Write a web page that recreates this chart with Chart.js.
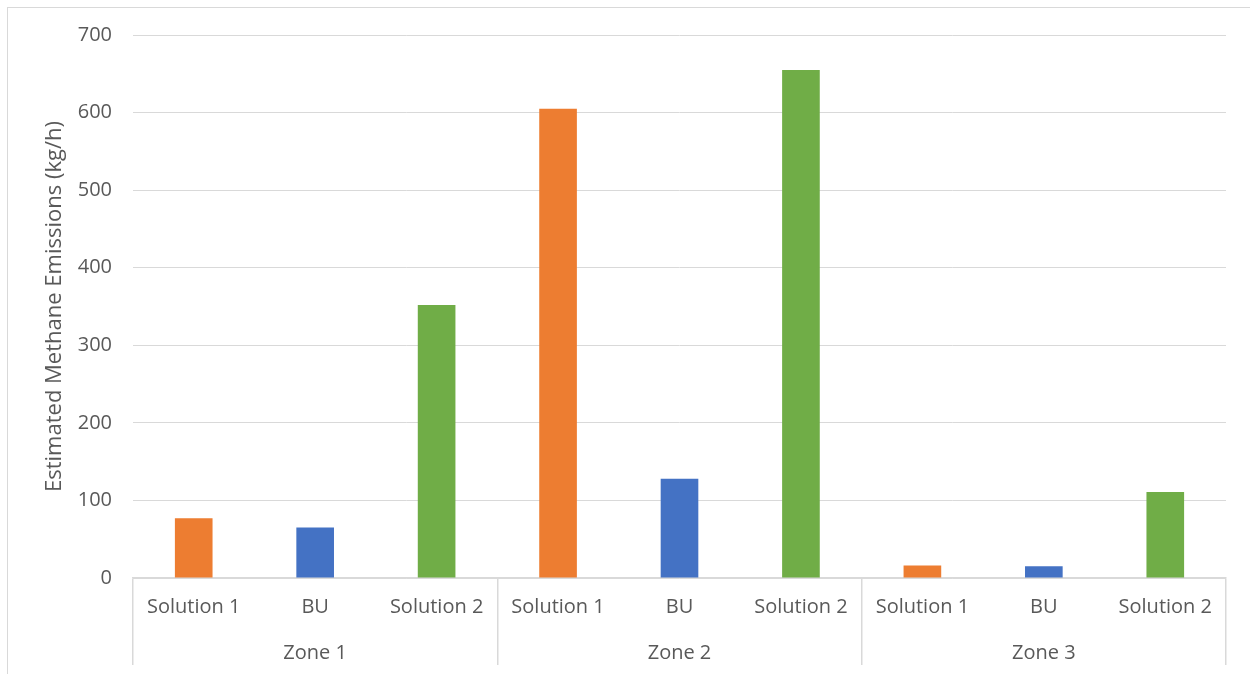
<!DOCTYPE html>
<html>
<head>
<meta charset="utf-8">
<script src="https://cdn.jsdelivr.net/npm/chart.js@4.4.1/dist/chart.umd.min.js"></script>
<style>
  body { margin: 0; background: #fff; }
  #frame { position: absolute; left: 7px; top: 7px; width: 1260px; height: 680px;
           border-left: 1.5px solid #d9d9d9; border-top: 1.5px solid #d9d9d9; }
  #chart { position: absolute; left: 0; top: 0; }
</style>
</head>
<body>
<div id="frame"></div>
<canvas id="chart" width="1250" height="674"></canvas>
<script>
const zones = ['Zone 1', 'Zone 2', 'Zone 3'];
const methods = ['Solution 1', 'BU', 'Solution 2'];
const solution1 = [77, 605, 16];
const bu = [65, 128, 15];
const solution2 = [352, 655, 111];
const yTicks = [0, 100, 200, 300, 400, 500, 600, 700];

const methodColors = ['#ed7d31', '#4472c4', '#70ad47'];
const series = [solution1, bu, solution2];

// interleave zone x method into one flat category list
const labels = [];
const values = [];
const colors = [];
zones.forEach((z, zi) => {
    methods.forEach((m, mi) => {
        labels.push(m);
        values.push(series[mi][zi]);
        colors.push(methodColors[mi]);
    });
});

const fontFamily = "'Open Sans', sans-serif";
const textColor = '#595959';
const lineColor = '#d9d9d9';

new Chart(document.getElementById('chart'), {
    type: 'bar',
    data: {
        labels: labels,
        datasets: [{
            data: values,
            backgroundColor: colors,
            borderWidth: 0,
            categoryPercentage: 1,
            barPercentage: 0.31,
            xAxisID: 'x'
        }]
    },
    options: {
        responsive: false,
        animation: false,
        layout: { padding: { left: 20, right: 24, top: 35, bottom: 9 } },
        plugins: {
            legend: { display: false },
            tooltip: { enabled: false }
        },
        scales: {
            y: {
                min: 0,
                max: 700,
                afterBuildTicks: function (scale) {
                    scale.ticks = yTicks.map(v => ({ value: v }));
                },
                afterFit: function (scale) { scale.width = 113; },
                grid: { color: lineColor, lineWidth: 1, drawTicks: false },
                border: { display: false },
                ticks: {
                    padding: 21,
                    color: textColor,
                    font: { family: fontFamily, size: 20 }
                },
                title: {
                    display: true,
                    text: 'Estimated Methane Emissions (kg/h)',
                    color: textColor,
                    font: { family: fontFamily, size: 22 },
                    padding: { top: 22, bottom: 0 }
                }
            },
            x: {
                position: 'bottom',
                afterFit: function (scale) { scale.height = 44; },
                grid: {
                    offset: true,
                    drawOnChartArea: false,
                    tickLength: 44,
                    lineWidth: 1.5,
                    color: ctx => (ctx.index === undefined || ctx.index % 3 === 0) ? lineColor : 'rgba(0,0,0,0)'
                },
                border: { display: true, color: lineColor, width: 1.5 },
                ticks: {
                    padding: -27,
                    maxRotation: 0,
                    autoSkip: false,
                    color: textColor,
                    font: { family: fontFamily, size: 20 }
                }
            },
            zone: {
                type: 'category',
                axis: 'x',
                position: 'bottom',
                labels: zones,
                offset: true,
                afterFit: function (scale) { scale.height = 43; },
                grid: {
                    offset: true,
                    drawOnChartArea: false,
                    tickLength: 43,
                    lineWidth: 1.5,
                    color: lineColor
                },
                border: { display: false },
                ticks: {
                    padding: -24,
                    maxRotation: 0,
                    color: textColor,
                    font: { family: fontFamily, size: 20 }
                }
            }
        }
    }
});
</script>
</body>
</html>
